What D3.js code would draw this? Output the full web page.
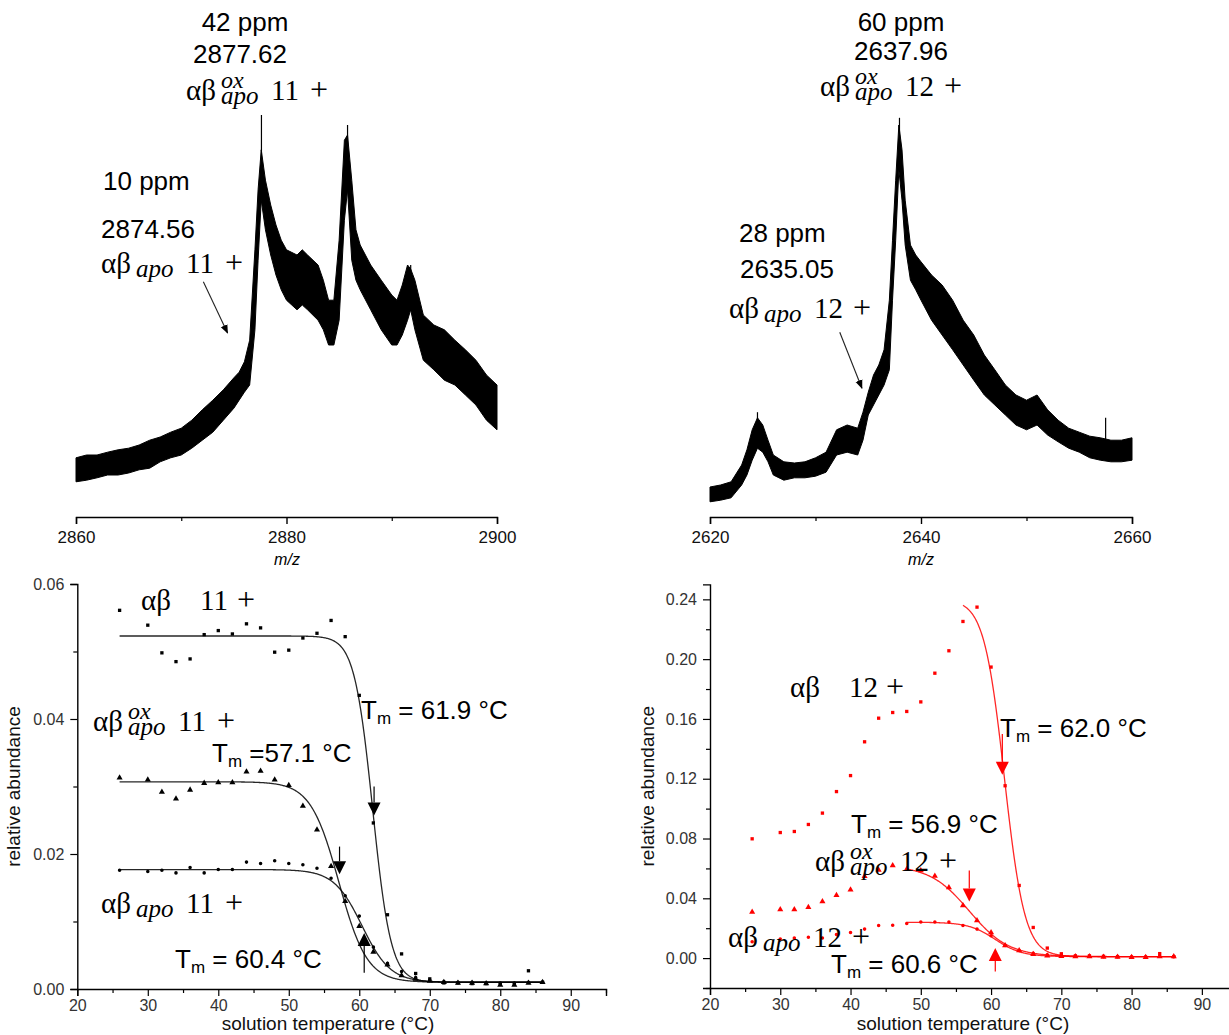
<!DOCTYPE html>
<html><head><meta charset="utf-8">
<script src="https://cdn.jsdelivr.net/npm/d3@7/dist/d3.min.js"></script>
<style>
body{margin:0;background:#fff}
svg{display:block}
text{white-space:pre}
</style>
</head><body>
<svg id="c" width="1229" height="1035"></svg>
<script>
// ---------------- DATA ----------------
// Mass spectrum 1 (m/z 2860-2900): noise band upper/lower envelope, arbitrary intensity (0-100)
const spec1Mz = [2860,2861,2862,2863,2864,2865,2866,2867,2868,2869,2870,2871,2872,2873,2874,2875,2875.5,2876,2876.5,2877,2877.3,2877.6,2878,2878.5,2879,2879.5,2880,2881,2881.5,2882,2883,2883.5,2884,2884.5,2885,2885.5,2885.8,2886.2,2886.6,2887,2888,2889,2890,2890.5,2891,2891.5,2891.8,2892.2,2893,2894,2895,2896,2897,2898,2899,2900];
const spec1Hi = [14.8,15.5,15.5,16.2,16.8,17.2,18,19.2,20,21.2,22.2,24.2,26.8,29.2,31.8,34.8,36.2,38.8,44.2,66.8,81.8,91.8,84.2,78,73,69.2,66.8,65.5,66.8,65.5,63,59.2,54.2,54.2,69.2,94.2,95.5,84.2,71.8,68,63,59.2,55.5,54.2,58,63,62,59.2,50.5,48,46.8,44.2,41.8,39.2,35.5,33];
const spec1Lo = [8.8,9.2,9.8,10.5,10.5,11,11.8,12.2,13.8,14.8,15.5,17.2,19.2,21.2,24.2,27.2,29.2,31.2,33,46.8,64.2,79.2,71.8,65.5,60.5,56.8,54.2,51.8,53,51.8,49.2,46.8,43,43,49.2,74.2,81.8,64.2,59.2,56.8,51.8,46.8,43,43,45.5,49.2,51.8,46.8,39.2,36.8,34.2,33,30.5,28,24.2,21.8];
const spec1Spikes = [[2877.62,80,100.5],[2885.8,85,98],[2891.8,55,63]];

// Mass spectrum 2 (m/z 2620-2660)
const spec2Mz = [2620,2621,2622,2623,2623.5,2624,2624.5,2625,2625.5,2626,2627,2628,2629,2630,2631,2632,2633,2634,2634.5,2635,2635.5,2636,2636.5,2637,2637.3,2637.6,2637.9,2638.2,2638.5,2639,2639.5,2640,2641,2642,2643,2644,2645,2646,2647,2648,2649,2650,2651,2652,2653,2654,2655,2656,2657,2658,2659,2660];
const spec2Hi = [7.5,8,8.8,13,16.8,21.8,24.8,23,19.2,15.5,13.8,13.5,13.8,14.8,16.2,21.8,23,22.2,26.2,31.2,35.5,38,41.8,54.2,69.2,84.2,98,91.8,79.2,68,65.5,63.8,60.5,58,54.2,49.2,45.5,40.5,36.8,33,30.5,29.2,30.5,26.8,24.2,22.2,21.2,20.2,19.8,19.2,19.2,19.8];
const spec2Lo = [3.8,4.2,4.8,8,10.5,14.2,17.2,16.2,13.8,10.5,9.2,9.8,9.8,10.2,11.2,15.5,16.2,15.5,19.2,25.5,28,30.5,33,36.8,54.2,69.2,86.8,79.2,68,59.2,56.8,54.2,49.2,45.5,41.8,38,34.2,30.5,28,25.5,23,21.8,23,20.5,18.8,17.2,16.2,14.8,14.2,13.8,13.8,14.2];
const spec2Spikes = [[2637.96,90,99.8],[2624.5,20,26.2],[2657.5,18,24.8]];

const spec1Ticks = [2860,2880,2900], spec1Minor = [2870,2890];
const spec2Ticks = [2620,2640,2660], spec2Minor = [2630,2650];

// Melting curves: solution temperature (°C) and relative abundance
const temps = [26,30,32,34,36,38,40,42,44,46,48,50,52,54,56,58,60,62,64,66,68,70,72,74,76,78,80,82,84,86];
const ab11  = [0.0561,0.0539,0.0498,0.0485,0.0489,0.0525,0.0531,0.0526,0.0541,0.0535,0.0499,0.0502,0.0520,0.0527,0.0546,0.0522,0.0435,0.0246,0.0110,0.0052,0.0023,0.0015,0.0009,0.0009,0.0008,0.0008,0.0007,0.0007,0.0027,0.0010];
const ox11  = [0.0313,0.0310,0.0292,0.0282,0.0295,0.0305,0.0306,0.0306,0.0322,0.0323,0.0310,0.0302,0.0271,0.0236,0.0182,0.0130,0.0093,0.0055,0.0036,0.0020,0.0015,0.0012,0.0010,0.0009,0.0009,0.0008,0.0006,0.0006,0.0009,0.0010];
const apo11 = [0.0176,0.0174,0.0176,0.0172,0.0180,0.0172,0.0177,0.0177,0.0188,0.0186,0.0190,0.0186,0.0184,0.0179,0.0164,0.0138,0.0108,0.0062,0.0038,0.0026,0.0017,0.0013,0.0011,0.0010,0.0010,0.0009,0.0009,0.0009,0.0010,0.0010];
const ab12  = [0.0798,0.0840,0.0847,0.0894,0.0970,0.1114,0.1221,0.1447,0.1605,0.1643,0.1650,0.1714,0.1906,0.2056,0.2252,0.2348,0.1947,0.1153,0.0486,0.0205,0.0067,0.0029,0.0015,0.0015,0.0012,0.0010,0.0005,0.0005,0.0030,0.0010];
const ox12  = [0.0308,0.0325,0.0325,0.0340,0.0379,0.0421,0.0457,0.0548,0.0590,0.0620,0.0595,0.0586,0.0550,0.0472,0.0352,0.0252,0.0171,0.0084,0.0051,0.0025,0.0015,0.0012,0.0010,0.0010,0.0008,0.0008,0.0005,0.0005,0.0010,0.0010];
const apo12 = [0.0110,0.0127,0.0134,0.0140,0.0134,0.0158,0.0171,0.0194,0.0218,0.0220,0.0231,0.0241,0.0241,0.0241,0.0218,0.0194,0.0149,0.0084,0.0051,0.0033,0.0022,0.0015,0.0012,0.0012,0.0010,0.0010,0.0008,0.0008,0.0012,0.0010];

// Boltzmann fits: [top, bottom, Tm, width, startT, endT]
const fitAb11  = [0.0523,0.0010,61.9,1.3,26,86];
const fitOx11  = [0.0307,0.0010,57.1,2.0,26,86];
const fitApo11 = [0.0177,0.0010,60.4,2.0,26,86];
const fitAb12  = [0.2400,0.0010,61.9,1.45,56,86];
const fitOx12  = [0.0620,0.0010,56.9,2.8,48,86];
const fitApo12 = [0.0240,0.0010,60.6,1.9,48,86];

// Tm arrows: [T, from value, tip value]
const arrowsLeft  = [[62.1,0.0300,0.0257],[57.2,0.0211,0.0170],[60.7,0.0024,0.0083]];
const arrowsRight = [[61.6,0.1500,0.1226],[56.9,0.0586,0.0379],[60.6,-0.0090,0.0067]];

const tempTicks = [20,30,40,50,60,70,80,90], tempMinor = [25,35,45,55,65,75,85,95];
const yTicksL = [0,0.02,0.04,0.06], yMinorL = [0.01,0.03,0.05];
const yTicksR = [0,0.04,0.08,0.12,0.16,0.20,0.24], yMinorR = [-0.02,0.02,0.06,0.10,0.14,0.18,0.22];

// ---------------- DRAW ----------------
const svg = d3.select('#c');
const SANS = 'Liberation Sans, Arial, sans-serif';
const SERIF = 'Liberation Serif, Times New Roman, serif';

function boltz(p, T){ return p[1] + (p[0]-p[1])/(1+Math.exp((T-p[2])/p[3])); }

function drawSpectrum(mz, hi, lo, spikes, dom, r, ticks, minor, mzLabelX){
  const x = d3.scaleLinear().domain(dom).range(r);
  const y = d3.scaleLinear().domain([0,100]).range([517,117]);
  const g = svg.append('g');
  const idx = d3.range(mz.length);
  g.append('path').datum(idx)
    .attr('d', d3.area().x(i=>x(mz[i])).y0(i=>y(lo[i])).y1(i=>y(hi[i])).curve(d3.curveLinear))
    .attr('fill','#000').attr('stroke','#000').attr('stroke-width',1);
  g.selectAll('line.sp').data(spikes).join('line')
    .attr('x1',d=>x(d[0])).attr('x2',d=>x(d[0])).attr('y1',d=>y(d[1])).attr('y2',d=>y(d[2]))
    .attr('stroke','#000').attr('stroke-width',1.2);
  const ax = g.append('g').attr('transform','translate(0,517)')
    .call(d3.axisBottom(x).tickValues(ticks).tickSize(7).tickPadding(7).tickFormat(d3.format('d')));
  ax.select('.domain').attr('stroke-width',1.4);
  ax.selectAll('.tick line').attr('stroke-width',1.4);
  ax.selectAll('text').attr('font-family',SANS).attr('font-size',17).attr('fill','#111');
  g.append('g').attr('transform','translate(0,517)')
    .call(d3.axisBottom(x).tickValues(minor).tickSize(4).tickFormat(''))
    .call(a=>a.select('.domain').remove()).selectAll('line').attr('stroke-width',1.2);
  g.append('text').attr('x',mzLabelX).attr('y',565).attr('text-anchor','middle')
    .attr('font-family',SANS).attr('font-size',16).attr('font-style','italic').text('m/z');
  return {x,y,g};
}

const s1 = drawSpectrum(spec1Mz, spec1Hi, spec1Lo, spec1Spikes, [2860,2900], [76,497], spec1Ticks, spec1Minor, 287);
const s2 = drawSpectrum(spec2Mz, spec2Hi, spec2Lo, spec2Spikes, [2620,2660], [710,1132], spec2Ticks, spec2Minor, 921);

// arrow marker
const defs = svg.append('defs');
defs.append('marker').attr('id','ah').attr('viewBox','0 0 10 10').attr('refX',9).attr('refY',5)
  .attr('markerWidth',9).attr('markerHeight',9).attr('orient','auto').attr('markerUnits','userSpaceOnUse')
  .append('path').attr('d','M0,1 L10,5 L0,9 Z').attr('fill','#000');

function annArrow(s, a, b){
  s.g.append('line').attr('x1',s.x(a[0])).attr('y1',s.y(a[1])).attr('x2',s.x(b[0])).attr('y2',s.y(b[1]))
    .attr('stroke','#222').attr('stroke-width',1.1).attr('marker-end','url(#ah)');
}
annArrow(s1,[2872.1,58.8],[2874.4,46]);
annArrow(s2,[2632.3,46.2],[2634.4,32.2]);

// text helpers
function plain(x,y,str,fs,anchor,fill){
  return svg.append('text').attr('x',x).attr('y',y).attr('font-family',SANS).attr('font-size',fs)
    .attr('text-anchor',anchor||'start').attr('fill',fill||'#000').text(str);
}
function tmLabel(x,y,val){
  const t = svg.append('text').attr('x',x).attr('y',y).attr('font-family',SANS).attr('font-size',26).attr('fill','#000');
  t.append('tspan').text('T');
  t.append('tspan').attr('font-size',17).attr('dy',5).text('m');
  t.append('tspan').attr('dy',-5).text(val);
}
// math-style species label (one text element): αβ with optional sub/superscript, then charge state
function mathLabel(x,y,sub,sup,num){
  const full = !!(sub||sup);
  const t = svg.append('text').attr('x',x).attr('y',y).attr('font-family',SERIF).attr('fill','#000');
  t.append('tspan').attr('x',x).attr('y',y).attr('font-size',29).text('αβ');
  if(sup) t.append('tspan').attr('x',x+35).attr('y',y-12).attr('font-size',24).attr('font-style','italic').text(sup);
  if(sub) t.append('tspan').attr('x',x+35).attr('y',y+4).attr('font-size',25).attr('font-style','italic').text(sub);
  t.append('tspan').attr('x',x+(full?85:59)).attr('y',y).attr('font-size',29).text(num);
  t.append('tspan').attr('x',x+(full?124:96)).attr('y',y).attr('font-size',32).text('+');
}

// top annotations
plain(245,31,'42 ppm',26,'middle');
plain(240,63,'2877.62',26,'middle');
mathLabel(186,100,'apo','ox','11');
plain(103,190,'10 ppm',26);
plain(101,238,'2874.56',26);
mathLabel(101,273,'apo',null,'11');

plain(901,31,'60 ppm',26,'middle');
plain(901,60,'2637.96',26,'middle');
mathLabel(820,96,'apo','ox','12');
plain(739,242,'28 ppm',26);
plain(740,278,'2635.05',26);
mathLabel(729,318,'apo',null,'12');

// ---------------- melting panels ----------------
function drawMelt(xr, yd, yr, yT, yM, series, fits, arrows, color, titleX, xTitleX, xTitleY){
  const x = d3.scaleLinear().domain([20,95]).range(xr);
  const y = d3.scaleLinear().domain(yd).range(yr);
  const g = svg.append('g');
  const xa = g.append('g').attr('transform',`translate(0,${yr[0]})`)
    .call(d3.axisBottom(x).tickValues(tempTicks).tickSize(7).tickPadding(4).tickFormat(d3.format('d')));
  xa.selectAll('text').attr('font-family',SANS).attr('font-size',16).attr('fill','#333');
  xa.select('.domain').attr('stroke-width',1.4);
  xa.selectAll('.tick line').attr('stroke-width',1.2);
  g.append('g').attr('transform',`translate(0,${yr[0]})`)
    .call(d3.axisBottom(x).tickValues(tempMinor).tickSize(4).tickFormat(''))
    .call(a=>a.select('.domain').remove()).selectAll('line').attr('stroke-width',1.2);
  const ya = g.append('g').attr('transform',`translate(${xr[0]},0)`)
    .call(d3.axisLeft(y).tickValues(yT).tickSize(7).tickPadding(6).tickFormat(d3.format('.2f')));
  ya.selectAll('text').attr('font-family',SANS).attr('font-size',16).attr('fill','#333');
  ya.select('.domain').attr('stroke-width',1.4);
  ya.selectAll('.tick line').attr('stroke-width',1.2);
  g.append('g').attr('transform',`translate(${xr[0]},0)`)
    .call(d3.axisLeft(y).tickValues(yM).tickSize(4).tickFormat(''))
    .call(a=>a.select('.domain').remove()).selectAll('line').attr('stroke-width',1.2);
  g.append('text').attr('transform',`translate(${titleX},${(yr[0]+yr[1])/2}) rotate(-90)`)
    .attr('text-anchor','middle').attr('font-family',SANS).attr('font-size',19).attr('fill','#111').text('relative abundance');
  g.append('text').attr('x',xTitleX).attr('y',xTitleY).attr('text-anchor','middle')
    .attr('font-family',SANS).attr('font-size',19).attr('fill','#111').text('solution temperature (°C)');
  fits.forEach(p=>{
    const pts = d3.range(p[4], p[5]+0.001, 0.1);
    g.append('path').datum(pts).attr('d', d3.line().x(T=>x(T)).y(T=>y(boltz(p,T))))
      .attr('fill','none').attr('stroke',color).attr('stroke-opacity',0.85).attr('stroke-width',1.3);
  });
  const shapes = [d3.symbolSquare, d3.symbolTriangle, d3.symbolCircle];
  const sizes = [11,16,10];
  series.forEach((vals,k)=>{
    g.selectAll(null).data(temps).join('path')
      .attr('transform',(T,i)=>`translate(${x(T)},${y(vals[i])})`)
      .attr('d', d3.symbol().type(shapes[k]).size(sizes[k]))
      .attr('fill',color);
  });
  arrows.forEach(a=>{
    const px = x(a[0]), y0 = y(a[1]), y1 = y(a[2]);
    const dir = Math.sign(y1-y0);
    const hl = 13, hw = 6.5;
    g.append('line').attr('x1',px).attr('x2',px).attr('y1',y0).attr('y2',y1-dir*hl)
      .attr('stroke',color).attr('stroke-width',1.2);
    g.append('path').attr('d',`M${px-hw},${y1-dir*hl} L${px+hw},${y1-dir*hl} L${px},${y1} Z`).attr('fill',color);
  });
  return {x,y};
}

drawMelt([77.3,606],[0,0.06],[989,584],yTicksL,yMinorL,[ab11,ox11,apo11],[fitAb11,fitOx11,fitApo11],arrowsLeft,'#000',20,328,1030);
drawMelt([710,1237],[-0.02,0.25],[988,584.4],yTicksR,yMinorR,[ab12,ox12,apo12],[fitAb12,fitOx12,fitApo12],arrowsRight,'#ff0000',654,963,1030);

// melting labels
mathLabel(141,610,null,null,'11');
mathLabel(93,731,'apo','ox','11');
tmLabel(212,762,' =57.1 °C');
tmLabel(361,719,' = 61.9 °C');
mathLabel(101,913,'apo',null,'11');
tmLabel(175,968,' = 60.4 °C');

mathLabel(790,697,null,null,'12');
tmLabel(1000,737,' = 62.0 °C');
tmLabel(851,833,' = 56.9 °C');
mathLabel(815,871,'apo','ox','12');
mathLabel(728,947,'apo',null,'12');
tmLabel(831,973,' = 60.6 °C');
</script>
</body></html>
